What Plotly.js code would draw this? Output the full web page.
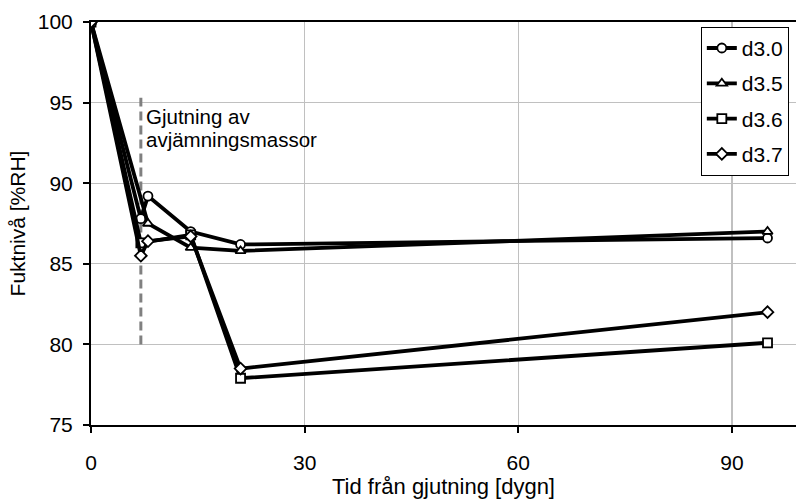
<!DOCTYPE html>
<html><head><meta charset="utf-8">
<script src="https://cdn.plot.ly/plotly-3.0.1.min.js"></script>
<style>html,body{margin:0;padding:0;background:#fff}</style>
</head><body><div id="chart" style="width:796px;height:502px"></div>
<script>
const seriesNames = ['d3.0', 'd3.5', 'd3.6', 'd3.7'];
const x_d30 = [0, 7, 8, 14, 21, 95];
const y_d30 = [100, 87.8, 89.2, 87.0, 86.2, 86.6];
const x_d35 = [0, 8, 14, 21, 95];
const y_d35 = [100, 87.5, 86.0, 85.8, 87.0];
const x_d36 = [0, 7, 14, 21, 95];
const y_d36 = [100, 86.3, 86.8, 77.9, 80.1];
const x_d37 = [0, 7, 8, 14, 21, 95];
const y_d37 = [100, 85.5, 86.4, 86.7, 78.5, 82.0];
const markerSymbols = ['circle', 'triangle-up', 'square', 'diamond'];
const castDay = [7, 7];
const castLineY = [80, 95.3];
const castLabelLines = ['Gjutning av', 'avjämningsmassor'];
const xTicks = [0, 30, 60, 90];
const yTicks = [75, 80, 85, 90, 95, 100];

const FONT = 'Liberation Sans, Arial, sans-serif';
const xs = [x_d30, x_d35, x_d36, x_d37];
const ys = [y_d30, y_d35, y_d36, y_d37];

const traces = [];
traces.push({
  x: castDay, y: castLineY, mode: 'lines', showlegend: false, hoverinfo: 'skip',
  line: {color: '#808080', width: 3, dash: '9px,5px'}
});
seriesNames.forEach((n, i) => {
  traces.push({
    x: xs[i], y: ys[i], name: n, mode: 'lines+markers', legendgroup: n,
    line: {color: '#000', width: 3.8},
    marker: {symbol: markerSymbols[i], size: 9, color: '#fff', line: {color: '#000', width: 1.8}}
  });
});

const layout = {
  width: 796, height: 502,
  margin: {l: 91, r: 0, t: 22, b: 77},
  paper_bgcolor: '#fff', plot_bgcolor: '#fff',
  font: {family: FONT, size: 21, color: '#000'},
  showlegend: true,
  legend: {
    x: 0.865, y: 0.988, xanchor: 'left', yanchor: 'top',
    bgcolor: '#fff', bordercolor: '#000', borderwidth: 1,
    font: {family: FONT, size: 21, color: '#000'},
    traceorder: 'grouped', tracegroupgap: 5, itemwidth: 30
  },
  xaxis: {
    range: [0, 99], tickvals: xTicks, ticktext: xTicks.map(String),
    showgrid: true, gridcolor: '#c0c0c0', gridwidth: 1.3,
    showline: true, linecolor: '#000', linewidth: 2, mirror: true,
    ticks: 'outside', ticklen: 6, tickwidth: 2, tickcolor: '#000',
    ticklabelstandoff: 12, zeroline: false,
    title: {text: 'Tid från gjutning [dygn]', font: {family: FONT, size: 22}, standoff: 5}
  },
  yaxis: {
    range: [75, 100], tickvals: yTicks, ticktext: yTicks.map(String),
    showgrid: true, gridcolor: '#c0c0c0', gridwidth: 1.3,
    showline: true, linecolor: '#000', linewidth: 2, mirror: true,
    ticks: 'outside', ticklen: 6, tickwidth: 2, tickcolor: '#000',
    ticklabelstandoff: 6, zeroline: false,
    title: {text: 'Fuktnivå [%RH]', font: {family: FONT, size: 21}, standoff: 6}
  },
  annotations: castLabelLines.map((t, i) => ({
    x: castDay[0], y: castLineY[1], xref: 'x', yref: 'y',
    text: t, showarrow: false, xanchor: 'left', yanchor: 'top',
    xshift: 3, yshift: -5 - i * 23,
    font: {family: FONT, size: 20.5, color: '#000'}
  }))
};

Plotly.newPlot('chart', traces, layout, {displayModeBar: false, staticPlot: true});
</script></body></html>
